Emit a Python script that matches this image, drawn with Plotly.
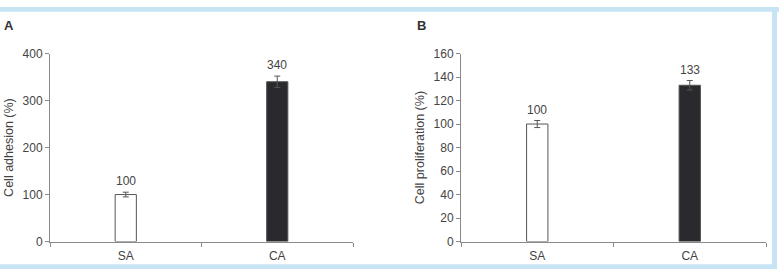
import plotly.graph_objects as go

categories = ["SA", "CA"]
adhesion = [100, 340]
adhesion_err = [5, 12]
proliferation = [100, 133]
proliferation_err = [3, 4]
bar_colors = ["#ffffff", "#2a2a2e"]

W, H = 779, 278
GRAY = "#8a8a8a"
TXT = "#444444"

def px_x(v):
    return v / W

def px_y(v):
    return 1 - v / H

fig = go.Figure()

panels = [
    ("x", "y", adhesion, adhesion_err, [0, 400], 100, "Cell adhesion (%)", (50, 353), "A", 9),
    ("x2", "y2", proliferation, proliferation_err, [0, 160], 20, "Cell proliferation (%)", (461, 766), "B", 421),
]

layout_axes = {}
for i, (xa, ya, vals, errs, rng, dtick, title, (x0, x1), letter, lx) in enumerate(panels):
    fig.add_trace(go.Bar(
        x=categories, y=vals, xaxis=xa, yaxis=ya,
        marker=dict(color=bar_colors, line=dict(color="#555555", width=1)),
        width=0.14,
        error_y=dict(type="data", array=errs, visible=True, color="#555555", thickness=1, width=3),
        showlegend=False,
    ))
    for c, v, e in zip(categories, vals, errs):
        fig.add_annotation(x=c, y=v + e, xref=xa, yref=ya, text=str(v), showarrow=False,
                           yanchor="bottom", yshift=2, font=dict(size=12, color=TXT))
    fig.add_annotation(x=px_x(lx), y=px_y(20), xref="paper", yref="paper", text="<b>" + letter + "</b>",
                       showarrow=False, xanchor="center", yanchor="middle",
                       font=dict(size=13, color="#333333"))
    suffix = "" if i == 0 else "2"
    layout_axes["xaxis" + suffix] = dict(
        domain=[px_x(x0), px_x(x1)], anchor=ya, showline=True, linecolor=GRAY, linewidth=1,
        ticks="outside", tickson="boundaries", ticklen=4, tickcolor=GRAY, showgrid=False,
        tickfont=dict(size=12, color=TXT), zeroline=False, fixedrange=True, ticklabelstandoff=3,
    )
    layout_axes["yaxis" + suffix] = dict(
        domain=[px_y(247), px_y(49)], anchor=xa, range=rng, dtick=dtick, showline=True,
        linecolor=GRAY, linewidth=1, ticks="outside", ticklen=4, tickcolor=GRAY, showgrid=False,
        zeroline=False, tickfont=dict(size=12, color=TXT),
        title=dict(text=title, font=dict(size=12.5, color=TXT), standoff=6),
    )

shapes = [
    dict(type="rect", xref="paper", yref="paper", x0=0, x1=1, y0=px_y(5), y1=1,
         fillcolor="#c6e4f4", line=dict(width=0), layer="below"),
    dict(type="rect", xref="paper", yref="paper", x0=0, x1=px_x(777), y0=px_y(276), y1=px_y(271),
         fillcolor="#c6e4f4", line=dict(width=0), layer="below"),
    dict(type="rect", xref="paper", yref="paper", x0=px_x(772), x1=px_x(777), y0=px_y(276), y1=1,
         fillcolor="#c6e4f4", line=dict(width=0), layer="below"),
]

fig.update_layout(
    width=W, height=H, margin=dict(l=0, r=0, t=0, b=0),
    paper_bgcolor="white", plot_bgcolor="white",
    font=dict(family="Liberation Sans, Arial, sans-serif", color=TXT),
    shapes=shapes, bargap=0.5, **layout_axes,
)

fig.write_html("out.html")
